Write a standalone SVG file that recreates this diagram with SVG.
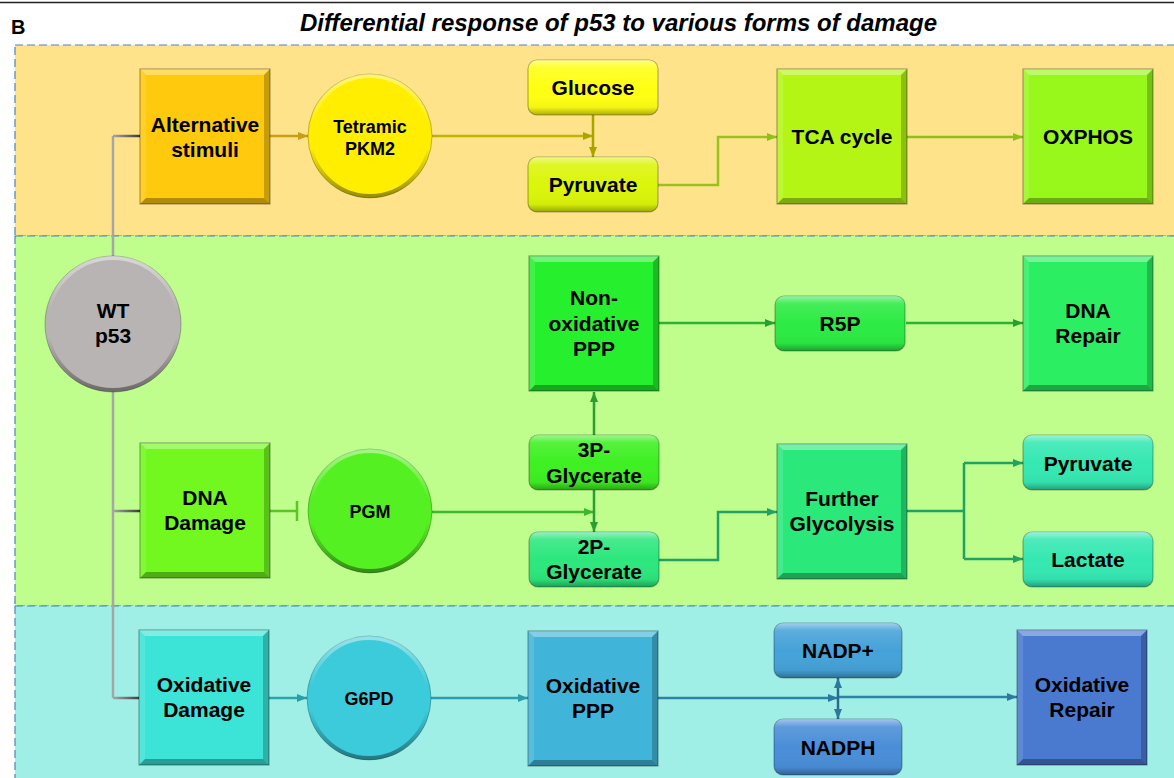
<svg xmlns="http://www.w3.org/2000/svg" xmlns:xlink="http://www.w3.org/1999/xlink" width="1174" height="778" viewBox="0 0 1174 778">
<style>
.t{font-family:"Liberation Sans",Arial,sans-serif;font-weight:bold;font-size:21px;fill:#000;text-anchor:middle}
.s{font-size:18px}
.sq{stroke:rgba(0,0,0,0.35);stroke-width:1.2}
.rr{stroke:rgba(0,0,0,0.3);stroke-width:1.2}
.c{fill:none;stroke-width:2.5}
.panel{stroke:#4F81BD;stroke-width:1.2;stroke-dasharray:8 4}
</style>
<defs>
<marker id="aGold" markerUnits="userSpaceOnUse" markerWidth="10" markerHeight="8" refX="10" refY="4" orient="auto-start-reverse"><path d="M0,0 L10,4 L0,8 z" fill="#C99E12"/></marker>
<marker id="aOlive" markerUnits="userSpaceOnUse" markerWidth="10" markerHeight="8" refX="10" refY="4" orient="auto-start-reverse"><path d="M0,0 L10,4 L0,8 z" fill="#A8A400"/></marker>
<marker id="aYg" markerUnits="userSpaceOnUse" markerWidth="10" markerHeight="8" refX="10" refY="4" orient="auto-start-reverse"><path d="M0,0 L10,4 L0,8 z" fill="#8EC01A"/></marker>
<marker id="aGreen" markerUnits="userSpaceOnUse" markerWidth="10" markerHeight="8" refX="10" refY="4" orient="auto-start-reverse"><path d="M0,0 L10,4 L0,8 z" fill="#3CB82A"/></marker>
<marker id="aDg" markerUnits="userSpaceOnUse" markerWidth="10" markerHeight="8" refX="10" refY="4" orient="auto-start-reverse"><path d="M0,0 L10,4 L0,8 z" fill="#2A9E30"/></marker>
<marker id="aSea" markerUnits="userSpaceOnUse" markerWidth="10" markerHeight="8" refX="10" refY="4" orient="auto-start-reverse"><path d="M0,0 L10,4 L0,8 z" fill="#22A262"/></marker>
<marker id="aTeal" markerUnits="userSpaceOnUse" markerWidth="10" markerHeight="8" refX="10" refY="4" orient="auto-start-reverse"><path d="M0,0 L10,4 L0,8 z" fill="#2A9EA8"/></marker>
<marker id="aSteel" markerUnits="userSpaceOnUse" markerWidth="10" markerHeight="8" refX="10" refY="4" orient="auto-start-reverse"><path d="M0,0 L10,4 L0,8 z" fill="#2E78A0"/></marker>
<linearGradient id="stub" gradientUnits="userSpaceOnUse" x1="113" y1="0" x2="140" y2="0"><stop offset="0" stop-color="#A6A6A6"/><stop offset="1" stop-color="#3A3A3A"/></linearGradient>
<linearGradient id="gloss" x1="0" y1="0" x2="0" y2="1"><stop offset="0" stop-color="#fff" stop-opacity="0.5"/><stop offset="0.14" stop-color="#fff" stop-opacity="0.12"/><stop offset="0.5" stop-color="#fff" stop-opacity="0"/><stop offset="0.86" stop-color="#000" stop-opacity="0.04"/><stop offset="1" stop-color="#000" stop-opacity="0.32"/></linearGradient>
<linearGradient id="rim" x1="0" y1="0" x2="0" y2="1"><stop offset="0" stop-color="#fff" stop-opacity="0.45"/><stop offset="0.4" stop-color="#fff" stop-opacity="0"/><stop offset="0.6" stop-color="#000" stop-opacity="0"/><stop offset="1" stop-color="#000" stop-opacity="0.4"/></linearGradient>
<g id="bevel">
<polygon points="0,0 130,0 124,6 6,6" fill="#fff" fill-opacity="0.35"/>
<polygon points="0,0 6,6 6,129 0,135" fill="#fff" fill-opacity="0.12"/>
<polygon points="130,0 130,135 124,129 124,6" fill="#000" fill-opacity="0.22"/>
<polygon points="0,135 130,135 124,129 6,129" fill="#000" fill-opacity="0.3"/>
</g>
</defs>

<line x1="0" y1="2.5" x2="1174" y2="2.5" stroke="#222" stroke-width="1.5"/>
<text x="11" y="34" font-family="Liberation Sans,Arial,sans-serif" font-weight="bold" font-size="20" fill="#000">B</text>
<text x="618.5" y="31" font-family="Liberation Sans,Arial,sans-serif" font-weight="bold" font-style="italic" font-size="24" fill="#000" text-anchor="middle">Differential response of p53 to various forms of damage</text>

<g id="panels">
<rect class="panel" x="15" y="45" width="1170" height="191" fill="#FFE38B"/>
<rect class="panel" x="15" y="236" width="1170" height="370" fill="#BFFE8D"/>
<rect class="panel" x="15" y="606" width="1170" height="190" fill="#A0EFE7"/>
</g>

<g id="connectors">
<path d="M113,136 V698" fill="none" stroke="#A6A6A6" stroke-width="2.5"/>
<path d="M113,136 H140 M113,511 H140 M113,698 H139" fill="none" stroke="url(#stub)" stroke-width="2.5"/>
<path class="c" d="M270,136 H308" stroke="#C99E12" marker-end="url(#aGold)"/>
<path class="c" d="M432,136 H593" stroke="#BDB500" marker-end="url(#aOlive)"/>
<path class="c" d="M593,115 V157" stroke="#A8A400" marker-end="url(#aOlive)"/>
<path class="c" d="M658,185 H718 V137 H777" stroke="#96C41C" marker-end="url(#aYg)"/>
<path class="c" d="M907,137 H1023" stroke="#8EC01A" marker-end="url(#aYg)"/>
<path class="c" d="M659,323 H775" stroke="#2DB034" marker-end="url(#aDg)"/>
<path class="c" d="M906,323 H1023" stroke="#2DB034" marker-end="url(#aDg)"/>
<path class="c" d="M270,511 H297 M297,501 V521" stroke="#5CC424"/>
<path class="c" d="M432,512 H594" stroke="#3CB82A" marker-end="url(#aGreen)"/>
<path class="c" d="M594,490 V532" stroke="#2A9E30" marker-end="url(#aDg)"/>
<path class="c" d="M594,435 V392" stroke="#2A9E30" marker-end="url(#aDg)"/>
<path class="c" d="M659,560 H718 V512 H777" stroke="#22A262" marker-end="url(#aSea)"/>
<path class="c" d="M907,511 H964 M964,463 V559" stroke="#22A262"/>
<path class="c" d="M964,463 H1023" stroke="#22A262" marker-end="url(#aSea)"/>
<path class="c" d="M964,559 H1023" stroke="#22A262" marker-end="url(#aSea)"/>
<path class="c" d="M269,698 H307" stroke="#2AA5A8" marker-end="url(#aTeal)"/>
<path class="c" d="M431,698 H528" stroke="#2A9EB0" marker-end="url(#aTeal)"/>
<path class="c" d="M658,698 H838" stroke="#2E82A6" marker-end="url(#aSteel)"/>
<path class="c" d="M838,697 H1017" stroke="#2E82A6" marker-end="url(#aSteel)"/>
<path class="c" d="M838,678 V719" stroke="#2A6A90" marker-start="url(#aSteel)" marker-end="url(#aSteel)"/>
</g>

<g id="n-alt" transform="translate(140,69)"><rect class="sq" width="130" height="135" fill="#FFC90E"/><use href="#bevel"/><text class="t" x="65" y="63">Alternative</text><text class="t" x="65" y="88">stimuli</text></g>
<g id="n-pkm2"><circle cx="370" cy="136" r="62" fill="#FFEE00" stroke="rgba(0,0,0,0.25)"/><circle cx="370" cy="136" r="60" fill="none" stroke="url(#rim)" stroke-width="4"/><text class="t s" x="370" y="133">Tetramic</text><text class="t s" x="370" y="155">PKM2</text></g>
<g id="n-glucose" transform="translate(528,60)"><rect class="rr" width="130" height="55" rx="9" fill="#FFFF14"/><rect width="130" height="55" rx="9" fill="url(#gloss)"/><text class="t" x="65" y="35">Glucose</text></g>
<g id="n-pyruvate1" transform="translate(528,157)"><rect class="rr" width="130" height="55" rx="9" fill="#DCF50A"/><rect width="130" height="55" rx="9" fill="url(#gloss)"/><text class="t" x="65" y="35">Pyruvate</text></g>
<g id="n-tca" transform="translate(777,69)"><rect class="sq" width="130" height="135" fill="#B4F516"/><use href="#bevel"/><text class="t" x="65" y="75">TCA cycle</text></g>
<g id="n-oxphos" transform="translate(1023,69)"><rect class="sq" width="130" height="135" fill="#98F81C"/><use href="#bevel"/><text class="t" x="65" y="75">OXPHOS</text></g>

<g id="n-wt"><circle cx="113" cy="324" r="68" fill="#B9B4B4" stroke="rgba(0,0,0,0.25)"/><circle cx="113" cy="324" r="66" fill="none" stroke="url(#rim)" stroke-width="4"/><text class="t" x="113" y="318">WT</text><text class="t" x="113" y="343">p53</text></g>
<g id="n-nonox" transform="translate(529,256)"><rect class="sq" width="130" height="135" fill="#26EF2E"/><use href="#bevel"/><text class="t" x="65" y="49">Non-</text><text class="t" x="65" y="75">oxidative</text><text class="t" x="65" y="100">PPP</text></g>
<g id="n-r5p" transform="translate(775,296)"><rect class="rr" width="130" height="55" rx="9" fill="#2CEB43"/><rect width="130" height="55" rx="9" fill="url(#gloss)"/><text class="t" x="65" y="35">R5P</text></g>
<g id="n-dnarepair" transform="translate(1023,256)"><rect class="sq" width="130" height="135" fill="#2BEE62"/><use href="#bevel"/><text class="t" x="65" y="62">DNA</text><text class="t" x="65" y="87">Repair</text></g>
<g id="n-dnadamage" transform="translate(140,443)"><rect class="sq" width="130" height="135" fill="#72F81E"/><use href="#bevel"/><text class="t" x="65" y="62">DNA</text><text class="t" x="65" y="87">Damage</text></g>
<g id="n-pgm"><circle cx="370" cy="511" r="62" fill="#55F021" stroke="rgba(0,0,0,0.25)"/><circle cx="370" cy="511" r="60" fill="none" stroke="url(#rim)" stroke-width="4"/><text class="t s" x="370" y="518">PGM</text></g>
<g id="n-3pg" transform="translate(529,435)"><rect class="rr" width="130" height="55" rx="9" fill="#3EF022"/><rect width="130" height="55" rx="9" fill="url(#gloss)"/><text class="t" x="65" y="22">3P-</text><text class="t" x="65" y="48">Glycerate</text></g>
<g id="n-2pg" transform="translate(529,532)"><rect class="rr" width="130" height="55" rx="9" fill="#2DE77D"/><rect width="130" height="55" rx="9" fill="url(#gloss)"/><text class="t" x="65" y="22">2P-</text><text class="t" x="65" y="47">Glycerate</text></g>
<g id="n-further" transform="translate(777,444)"><rect class="sq" width="130" height="135" fill="#2BE87B"/><use href="#bevel"/><text class="t" x="65" y="62">Further</text><text class="t" x="65" y="87">Glycolysis</text></g>
<g id="n-pyruvate2" transform="translate(1023,435)"><rect class="rr" width="130" height="55" rx="9" fill="#35E8B2"/><rect width="130" height="55" rx="9" fill="url(#gloss)"/><text class="t" x="65" y="36">Pyruvate</text></g>
<g id="n-lactate" transform="translate(1023,532)"><rect class="rr" width="130" height="55" rx="9" fill="#35E8B2"/><rect width="130" height="55" rx="9" fill="url(#gloss)"/><text class="t" x="65" y="35">Lactate</text></g>

<g id="n-oxdamage" transform="translate(139,630)"><rect class="sq" width="130" height="135" fill="#3CE3D7"/><use href="#bevel"/><text class="t" x="65" y="62">Oxidative</text><text class="t" x="65" y="87">Damage</text></g>
<g id="n-g6pd"><circle cx="369" cy="698" r="62" fill="#3CCBDA" stroke="rgba(0,0,0,0.25)"/><circle cx="369" cy="698" r="60" fill="none" stroke="url(#rim)" stroke-width="4"/><text class="t s" x="369" y="705">G6PD</text></g>
<g id="n-oxppp" transform="translate(528,631)"><rect class="sq" width="130" height="135" fill="#41B5D9"/><use href="#bevel"/><text class="t" x="65" y="62">Oxidative</text><text class="t" x="65" y="87">PPP</text></g>
<g id="n-nadp" transform="translate(774,623)"><rect class="rr" width="128" height="55" rx="9" fill="#45A2D8"/><rect width="128" height="55" rx="9" fill="url(#gloss)"/><text class="t" x="64" y="35">NADP+</text></g>
<g id="n-nadph" transform="translate(774,719)"><rect class="rr" width="128" height="56" rx="9" fill="#4A8ED8"/><rect width="128" height="56" rx="9" fill="url(#gloss)"/><text class="t" x="64" y="36">NADPH</text></g>
<g id="n-oxrepair" transform="translate(1017,630)"><rect class="sq" width="130" height="135" fill="#4A79D0"/><use href="#bevel"/><text class="t" x="65" y="62">Oxidative</text><text class="t" x="65" y="87">Repair</text></g>
</svg>
